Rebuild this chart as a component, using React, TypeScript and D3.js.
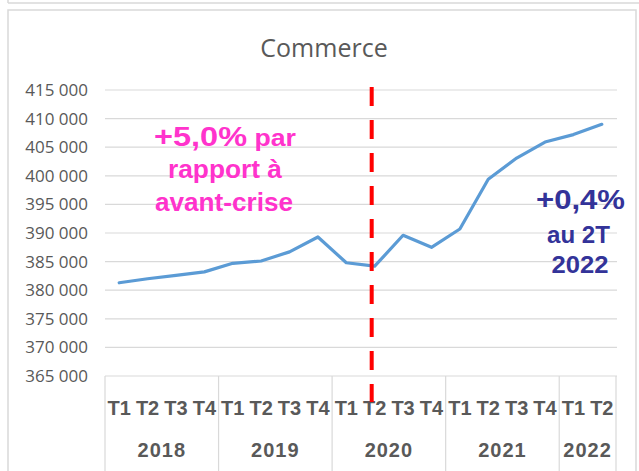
import React from "react";
import * as d3 from "d3";

const years = ["2018", "2019", "2020", "2021", "2022"];
const quartersPerYear = [4, 4, 4, 4, 2];
const quarterLabels = ["T1", "T2", "T3", "T4", "T1", "T2", "T3", "T4", "T1", "T2", "T3", "T4", "T1", "T2", "T3", "T4", "T1", "T2"];
const values = [381300, 382000, 382600, 383200, 384700, 385100, 386700, 389300, 384800, 384200, 389600, 387500, 390700, 399400, 403100, 405900, 407200, 409000];
const yTicks = [365000, 370000, 375000, 380000, 385000, 390000, 395000, 400000, 405000, 410000, 415000];
const title = "Commerce";
const crisisIndex = 9; // 2020 T2
const noteLeft = ["+5,0%", " par", "rapport à", "avant-crise"];
const noteRight = ["+0,4%", "au 2T", "2022"];

const W = 639;
const H = 471;
const plotL = 105;
const plotR = 616;
const plotT = 90;
const plotB = 376;

export default function App() {
  const x = d3.scaleBand<number>().domain(d3.range(values.length)).range([plotL, plotR]).padding(0);
  const y = d3.scaleLinear().domain([365000, 415000]).range([plotB, plotT]);
  const cx = (i: number) => (x(i) as number) + x.bandwidth() / 2;
  const line = d3.line<number>().x((_, i) => cx(i)).y((d) => y(d));
  const fmt = (v: number) => d3.format(",")(v).replace(/,/g, " ");

  const starts: number[] = [];
  let acc = 0;
  quartersPerYear.forEach((n) => {
    starts.push(acc);
    acc += n;
  });

  const grey = "#d9d9d9";
  const textGrey = "#595959";
  const redX = cx(crisisIndex) - 3;

  return (
    <svg width={W} height={H} style={{ position: "absolute", left: 0, top: 0, background: "#fff" }}>
      <rect x={0} y={0} width={W} height={H} fill="#fff" />
      <line x1={8} y1={3} x2={W} y2={3} stroke={grey} strokeWidth={1.5} />
      <line x1={8} y1={0} x2={8} y2={3} stroke={grey} strokeWidth={1.5} />
      <rect x={8} y={10} width={628} height={480} fill="none" stroke={grey} strokeWidth={1.5} />

      <text x={324} y={57} textAnchor="middle" fontFamily="Open Sans" fontSize={25} fill={textGrey}>
        {title}
      </text>

      {yTicks.map((t) => (
        <g key={t}>
          <line x1={plotL} x2={plotR + 1} y1={y(t)} y2={y(t)} stroke={grey} strokeWidth={1.2} />
          <text x={88} y={y(t)} dy="0.35em" textAnchor="end" fontFamily="Open Sans" fontSize={17} fill={textGrey}>
            {fmt(t)}
          </text>
        </g>
      ))}

      {starts.map((s, k) => (
        <line key={"s" + k} x1={x(s) as number} x2={x(s) as number} y1={plotB} y2={H} stroke={grey} strokeWidth={1.2} />
      ))}
      <line x1={plotR} x2={plotR} y1={plotB} y2={H} stroke={grey} strokeWidth={1.2} />

      {quarterLabels.map((q, i) => (
        <text key={"q" + i} x={cx(i)} y={415} textAnchor="middle" fontFamily="Liberation Sans" fontWeight="bold" fontSize={20} fill={textGrey}>
          {q}
        </text>
      ))}
      {years.map((yr, k) => {
        const a = x(starts[k]) as number;
        const b = a + quartersPerYear[k] * x.bandwidth();
        return (
          <text key={yr} x={(a + b) / 2} y={457} textAnchor="middle" fontFamily="Liberation Sans" fontWeight="bold" fontSize={20} letterSpacing={1} fill={textGrey}>
            {yr}
          </text>
        );
      })}

      <path d={line(values) as string} fill="none" stroke="#5B9BD5" strokeWidth={3.2} strokeLinejoin="round" strokeLinecap="round" />

      <line x1={redX} x2={redX} y1={87} y2={402} stroke="#FF0000" strokeWidth={4} strokeDasharray="19 14" />

      <g fontFamily="Liberation Sans" fontWeight="bold" fill="#FF33CC" textAnchor="middle">
        <text x={225} y={145.7} textLength={142} lengthAdjust="spacingAndGlyphs">
          <tspan fontSize={28}>{noteLeft[0]}</tspan>
          <tspan fontSize={23}>{noteLeft[1]}</tspan>
        </text>
        <text x={225} y={178.3} fontSize={25} textLength={114} lengthAdjust="spacingAndGlyphs">
          {noteLeft[2]}
        </text>
        <text x={224} y={210.5} fontSize={25} textLength={138} lengthAdjust="spacingAndGlyphs">
          {noteLeft[3]}
        </text>
      </g>

      <g fontFamily="Liberation Sans" fontWeight="bold" fill="#333399" textAnchor="middle">
        <text x={580.5} y={209.3} fontSize={27} textLength={89} lengthAdjust="spacingAndGlyphs">
          {noteRight[0]}
        </text>
        <text x={578.5} y={243.3} fontSize={23} textLength={63} lengthAdjust="spacingAndGlyphs">
          {noteRight[1]}
        </text>
        <text x={580} y={273.3} fontSize={24} textLength={57} lengthAdjust="spacingAndGlyphs">
          {noteRight[2]}
        </text>
      </g>
    </svg>
  );
}
